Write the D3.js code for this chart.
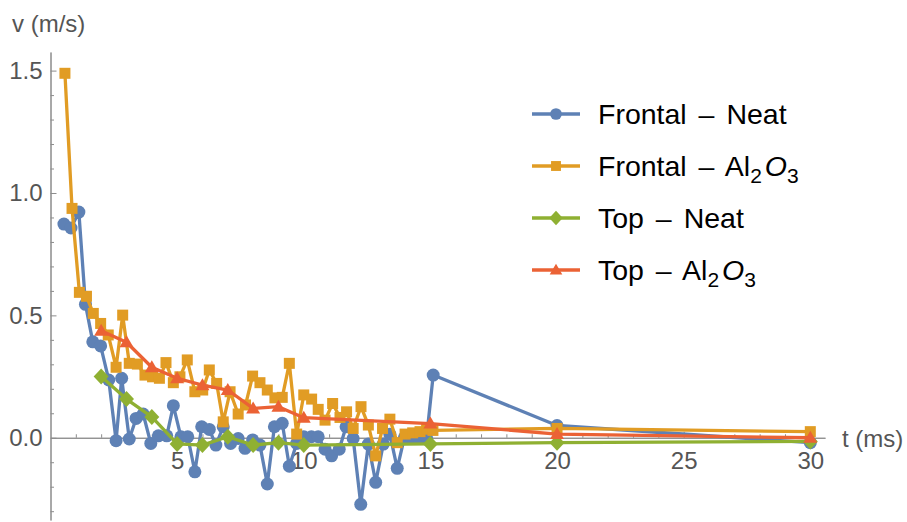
<!DOCTYPE html>
<html><head><meta charset="utf-8">
<script src="https://cdn.jsdelivr.net/npm/d3@7"></script>
<style>body{margin:0;background:#fff}</style>
</head><body><svg id="c" width="907" height="522"></svg>
<script>
// ---- data ----
const frontalNeatT = [0.53,0.81,1.12,1.38,1.67,1.98,2.3,2.59,2.81,3.11,3.38,3.66,3.96,4.26,4.59,4.85,5.15,5.42,5.7,5.97,6.27,6.53,6.82,7.11,7.41,7.68,7.98,8.27,8.56,8.84,9.15,9.43,9.72,10.0,10.3,10.57,10.84,11.1,11.4,11.67,11.95,12.25,12.55,12.84,13.14,13.4,13.69,13.97,14.27,14.56,14.85,15.11,20,30];
const frontalNeatV = [0.873,0.857,0.922,0.545,0.392,0.375,0.236,-0.012,0.243,-0.005,0.079,0.097,-0.023,0.008,0.008,0.131,0.004,0.004,-0.139,0.045,0.034,-0.03,0.045,-0.023,-0.003,-0.043,-0.009,-0.03,-0.189,0.045,0.059,-0.116,-0.023,0.004,0.004,0.004,-0.047,-0.074,-0.047,0.045,-0.003,-0.272,-0.026,-0.182,-0.026,0.014,-0.125,0.0,0.0,0.0,0.0,0.256,0.05,-0.02];
const frontalAlT = [0.57,0.85,1.14,1.42,1.69,1.98,2.28,2.59,2.85,3.11,3.43,3.73,4.03,4.3,4.56,4.85,5.11,5.4,5.7,6.01,6.27,6.56,6.82,7.09,7.41,7.7,7.98,8.27,8.56,8.86,9.15,9.43,9.72,10.0,10.31,10.57,10.84,11.14,11.43,11.69,11.95,12.26,12.55,12.84,13.11,13.4,13.69,14.0,14.3,14.59,14.85,15.1,20,30];
const frontalAlV = [1.489,0.937,0.594,0.578,0.508,0.467,0.42,0.288,0.501,0.304,0.301,0.256,0.249,0.243,0.307,0.225,0.249,0.318,0.188,0.195,0.277,0.222,0.065,0.188,0.097,0.134,0.252,0.225,0.195,0.163,0.165,0.304,0.015,0.175,0.158,0.116,0.072,0.14,0.083,0.106,0.038,0.127,0.052,-0.074,0.038,0.076,-0.02,0.015,0.02,0.025,0.035,0.03,0.038,0.025];
const topNeatT = [2,3,4,5,6,7,8,9,10,15,20,30];
const topNeatV = [0.25,0.158,0.085,-0.025,-0.03,0.004,-0.03,-0.02,-0.03,-0.025,-0.02,-0.015];
const topAlT = [2,3,4,5,6,7,8,9,10,15,20,30];
const topAlV = [0.437,0.39,0.288,0.243,0.215,0.195,0.12,0.127,0.082,0.058,0.015,0.0];

const seriesNames = ["Frontal – Neat","Frontal – Al2O3","Top – Neat","Top – Al2O3"];
const seriesColors = ["#5E81B5","#E19C24","#8FB032","#EB6235"];
const seriesMarkers = ["circle","square","diamond","triangle"];
const xMajorTicks = [5,10,15,20,25,30];
const yMajorTicks = [0,0.5,1.0,1.5];
const yTickLabels = ["0.0","0.5","1.0","1.5"];
const xAxisLabel = "t (ms)";
const yAxisLabel = "v (m/s)";

// ---- chart ----
const svg = d3.select("#c");
const font = "'Liberation Sans', Arial, sans-serif";
const axisColor = "#8c8c8c", textColor = "#555";
const x = d3.scaleLinear().domain([0, 30.58]).range([50.5, 825]);
const y = d3.scaleLinear().domain([-0.336, 1.576]).range([520, 52]);

const series = [
  {t: frontalNeatT, v: frontalNeatV},
  {t: frontalAlT, v: frontalAlV},
  {t: topNeatT, v: topNeatV},
  {t: topAlT, v: topAlV}
].map((s,i)=>({name: seriesNames[i], color: seriesColors[i], marker: seriesMarkers[i],
  pts: s.t.map((t,j)=>[t, s.v[j]])}));

// axes
const x0 = y(0);
const xMinor = d3.range(1, 31).filter(d => d % 5 !== 0);
svg.append("g").attr("transform", `translate(0,${x0})`)
  .call(d3.axisBottom(x).tickValues(xMinor).tickSize(-3.5).tickSizeOuter(0).tickFormat(""));
const gx = svg.append("g").attr("transform", `translate(0,${x0})`)
  .call(d3.axisBottom(x).tickValues(xMajorTicks).tickSize(-6).tickSizeOuter(0).tickPadding(0));
gx.selectAll("text").attr("y", 31).attr("dy", 0);

const yMinor = d3.range(-3, 16).map(d => d / 10).filter(d => Math.abs(d*2 - Math.round(d*2)) > 1e-6);
const y0 = x(0);
svg.append("g").attr("transform", `translate(${y0},0)`)
  .call(d3.axisLeft(y).tickValues(yMinor).tickSize(-3.5).tickSizeOuter(0).tickFormat(""));
const gy = svg.append("g").attr("transform", `translate(${y0},0)`)
  .call(d3.axisLeft(y).tickValues(yMajorTicks).tickSize(-6).tickSizeOuter(0)
    .tickFormat((d,i)=>yTickLabels[i]).tickPadding(8));
gy.selectAll("text").attr("x", -8);

svg.selectAll(".domain, .tick line").attr("stroke", axisColor).attr("stroke-width", 1);
svg.selectAll(".tick text").attr("fill", textColor).style("font-family", font).style("font-size", "24px");

svg.append("text").attr("x", 842).attr("y", 447).text(xAxisLabel)
  .attr("fill", textColor).style("font-family", font).style("font-size", "24px");
svg.append("text").attr("x", 12).attr("y", 32).text(yAxisLabel)
  .attr("fill", textColor).style("font-family", font).style("font-size", "24px");

// marker shapes
function markerPath(type, s) {
  s = s || 1;
  if (type === "circle") { const r = 6.5*s; return `M${-r},0A${r},${r} 0 1,0 ${r},0A${r},${r} 0 1,0 ${-r},0Z`; }
  if (type === "square") { const h = 5.5*s; return `M${-h},${-h}H${h}V${h}H${-h}Z`; }
  if (type === "diamond") { const w = 7.5*s, hh = 8*s; return `M0,${-hh}L${w},0L0,${hh}L${-w},0Z`; }
  const w = 7*s; return `M0,${-7*s}L${w},${5*s}L${-w},${5*s}Z`;
}

const line = d3.line().x(d => x(d[0])).y(d => y(d[1]));
series.forEach(s => {
  const g = svg.append("g");
  g.append("path").datum(s.pts).attr("d", line).attr("fill", "none")
    .attr("stroke", s.color).attr("stroke-width", 3.3).attr("stroke-linejoin", "round");
  g.selectAll("path.m").data(s.pts).join("path").attr("class", "m")
    .attr("transform", d => `translate(${x(d[0])},${y(d[1])})`)
    .attr("d", markerPath(s.marker)).attr("fill", s.color);
});

// legend
const legendY = d3.scaleLinear().domain([0, 3]).range([114, 270]);
series.forEach((s, i) => {
  const ly = legendY(i);
  const g = svg.append("g").attr("transform", `translate(0,${ly})`);
  g.append("line").attr("x1", 532).attr("x2", 580).attr("y1", 0).attr("y2", 0)
    .attr("stroke", s.color).attr("stroke-width", 3.3);
  g.append("path").attr("transform", "translate(556,0)").attr("d", markerPath(s.marker, 0.9)).attr("fill", s.color);
  const t = g.append("text").attr("x", 598).attr("y", 10).attr("fill", "#000")
    .style("font-family", font).style("font-size", "28.5px").style("word-spacing", "4px");
  const m = s.name.match(/^(.*Al)2O3$/);
  if (m) {
    t.append("tspan").text(m[1]);
    t.append("tspan").attr("dy", 7).style("font-size", "21px").text("2");
    t.append("tspan").attr("dy", -7).attr("dx", 3).style("font-style", "italic").text("O");
    t.append("tspan").attr("dy", 7).style("font-size", "21px").text("3");
  } else {
    t.text(s.name);
  }
});
</script>
</body></html>
